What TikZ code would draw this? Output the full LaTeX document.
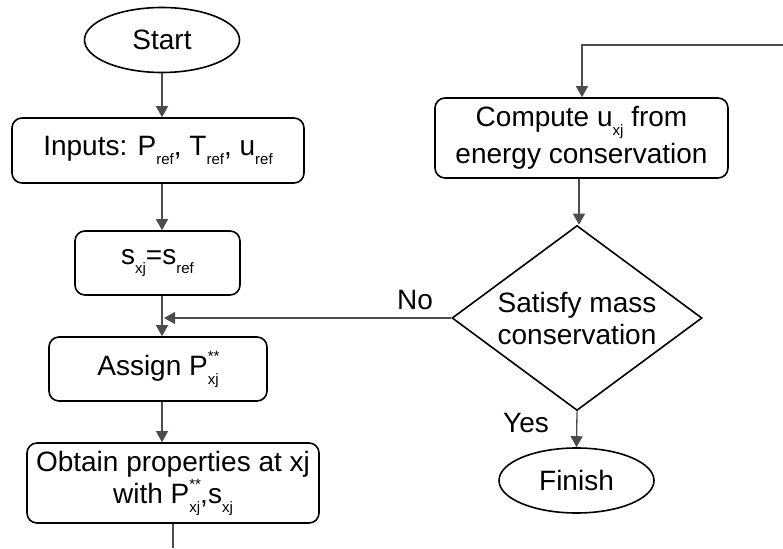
\documentclass[tikz,border=0pt]{standalone}
\usepackage{fontspec}
\setmainfont{Liberation Sans}
\usetikzlibrary{shapes.geometric,arrows.meta}

% subscript, superscript and stacked sub/superscript in text
\newcommand{\lo}[1]{\raisebox{-0.32em}{\fontsize{15}{15}\selectfont #1}}
\newcommand{\hi}[1]{\raisebox{0.5em}{\fontsize{15}{15}\selectfont #1}}
\newcommand{\lohi}[2]{\rlap{\hi{#2}}\lo{#1}}

\begin{document}
\begin{tikzpicture}[x=1pt,y=-1pt,
  every node/.style={font=\fontsize{28}{32}\selectfont, align=center},
  proc/.style={draw, line width=1.6pt, rounded corners=10pt, inner sep=0pt},
  term/.style={draw, ellipse, line width=1.6pt, inner sep=0pt},
  decide/.style={draw, diamond, shape aspect=1.351, line width=1.6pt, inner sep=0pt},
  flow/.style={draw=black!70, line width=1.3pt, -{Triangle[length=11pt,width=12pt]}},
  plain/.style={draw=black!70, line width=1.3pt}]
\useasboundingbox (0,0) rectangle (783,548);

% left column
\node[term, minimum width=155pt, minimum height=65pt] (start) at (162,40) {Start};
\node[proc, minimum width=292pt, minimum height=65pt] (inp) at (158,150.5)
  {Inputs: P\lo{ref}, T\lo{ref}, u\lo{ref}};
\node[proc, minimum width=165pt, minimum height=64pt] (sx) at (157.5,263)
  {s\lo{xj}=s\lo{ref}};
\node[proc, minimum width=218pt, minimum height=64pt] (asg) at (158,369)
  {Assign P\lohi{xj}{**}};
\node[proc, minimum width=292pt, minimum height=80pt] (obt) at (173,483)
  {Obtain properties at xj\\with P\lohi{xj}{**},s\lo{xj}};

% right column
\node[proc, minimum width=293pt, minimum height=80pt] (cmp) at (581.5,138)
  {Compute u\lo{xj} from\\[4pt]energy conservation};
\node[decide, minimum width=250pt, minimum height=185pt] (dia) at (577,318)
  {Satisfy mass\\conservation};
\node[term, minimum width=155pt, minimum height=65pt] (fin) at (576.5,480.5) {Finish};

% free ends and junction
\coordinate (loopin) at (783,45);
\coordinate (loopout) at (173,548);
\coordinate (merge) at (164,318);

% connectors
\draw[flow] (start) -- (start |- inp.north);
\draw[flow] (start |- inp.south) -- (start |- sx.north);
\draw[flow] (start |- sx.south) -- (start |- asg.north);
\draw[flow] (start |- asg.south) -- (start |- obt.north);
\draw[plain] (obt.south) -- (loopout);
\draw[flow] (loopin) -| (cmp.north -| 582,0);
\draw[flow] (cmp.south -| 579,0) -- (dia.north -| 579,0);
\draw[flow] (dia.west) -- (merge);
\draw[flow] (dia.south) -- (fin.north);

% branch labels
\node (no) at (415,300) {No};
\node (yes) at (526,423) {Yes};
\end{tikzpicture}
\end{document}
